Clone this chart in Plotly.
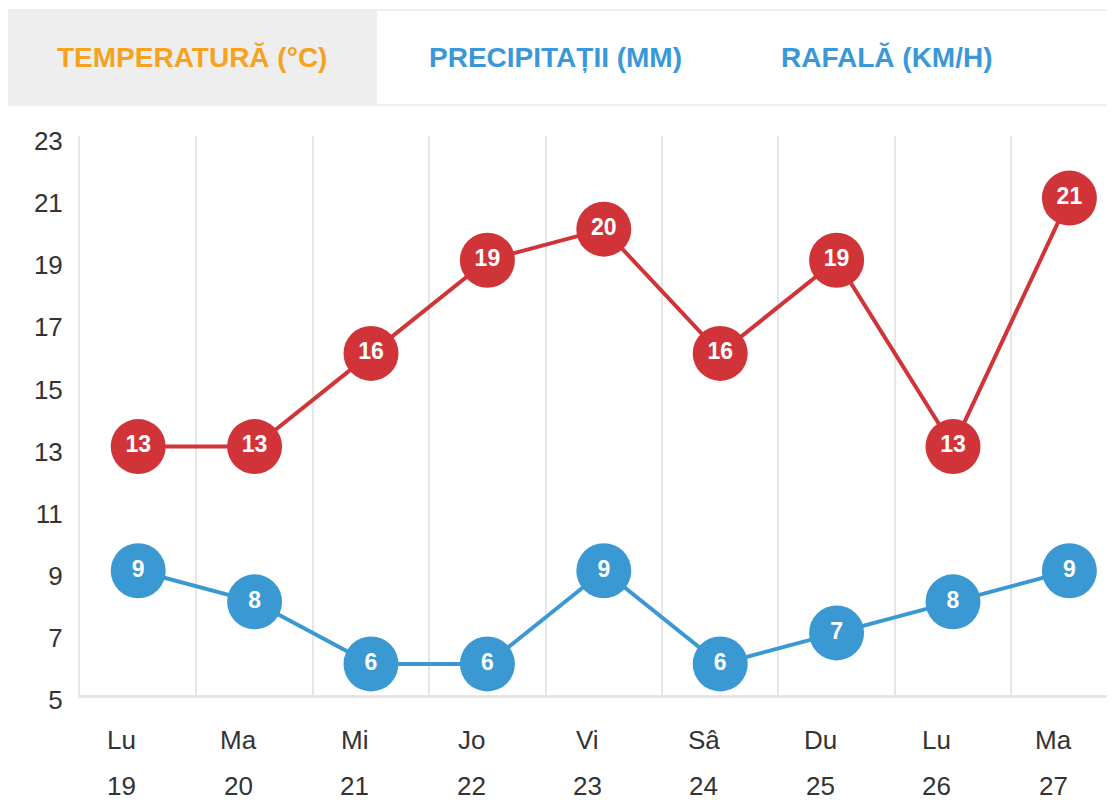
import plotly.graph_objects as go

days = ["Lu", "Ma", "Mi", "Jo", "Vi", "Sâ", "Du", "Lu", "Ma"]
dates = ["19", "20", "21", "22", "23", "24", "25", "26", "27"]
temperature = [13, 13, 16, 19, 20, 16, 19, 13, 21]
second_series = [9, 8, 6, 6, 9, 6, 7, 8, 9]
tabs = ["TEMPERATURĂ (°C)", "PRECIPITAȚII (MM)", "RAFALĂ (KM/H)"]
y_ticks = [5, 7, 9, 11, 13, 15, 17, 19, 21, 23]

RED = "#d13438"
BLUE = "#3a98d3"
GRID = "#e6e6e6"
FONT = "Liberation Sans, Arial, sans-serif"

x = list(range(len(days)))

fig = go.Figure()
for vals, col, name in [(temperature, RED, "Temperatură"), (second_series, BLUE, "Serie 2")]:
    fig.add_trace(go.Scatter(
        x=x, y=vals, name=name,
        mode="lines+markers+text",
        line=dict(color=col, width=4),
        marker=dict(size=55, color=col, line=dict(width=0)),
        text=[str(v) for v in vals],
        textposition="middle center",
        textfont=dict(color="white", size=23, family=FONT, weight="bold"),
        cliponaxis=False,
        hoverinfo="skip",
    ))

OFF = 8  # page body margin offset
W, H = 1115 - OFF, 800
L, T = 80 - OFF, 136 - OFF
B = H - (695 - OFF)
R = 0
plot_w = W - L - R
plot_h = H - T - B
cat_w = 116.4

def px_x(p):
    return (p - OFF - L) / plot_w

def px_y(p):
    return (H - B - (p - OFF)) / plot_h

annotations = []
for i, (d, dt) in enumerate(zip(days, dates)):
    annotations.append(dict(x=i - 0.14, y=5, xref="x", yref="y", text=d, showarrow=False,
                            yshift=-45, font=dict(size=26, color="#333333", family=FONT)))
    annotations.append(dict(x=i - 0.14, y=5, xref="x", yref="y", text=dt, showarrow=False,
                            yshift=-91, font=dict(size=26, color="#333333", family=FONT)))

tab_x = [192, 555, 887]
tab_col = ["#f5a31f", "#3a98d8", "#3a98d8"]
for t, tx, c in zip(tabs, tab_x, tab_col):
    annotations.append(dict(x=px_x(tx), y=px_y(57), xref="paper", yref="paper", text=t,
                            showarrow=False, xanchor="center", yanchor="middle",
                            font=dict(size=28, color=c, family=FONT, weight="bold")))

shapes = [
    dict(type="rect", xref="paper", yref="paper", x0=px_x(7), x1=px_x(377), y0=px_y(105), y1=px_y(10),
         fillcolor="#eeeeee", line=dict(width=0), layer="below"),
    dict(type="line", xref="paper", yref="paper", x0=px_x(7), x1=1, y0=px_y(10), y1=px_y(10),
         line=dict(color="#eeeeee", width=2)),
    dict(type="line", xref="paper", yref="paper", x0=px_x(7), x1=1, y0=px_y(105), y1=px_y(105),
         line=dict(color="#eeeeee", width=2)),
]

fig.update_layout(
    width=W, height=H,
    margin=dict(l=L, r=R, t=T, b=B),
    paper_bgcolor="white", plot_bgcolor="white",
    showlegend=False,
    annotations=annotations,
    shapes=shapes,
    xaxis=dict(
        range=[-0.5, -0.5 + plot_w / cat_w],
        tickvals=[i + 0.5 for i in range(len(days) - 1)],
        showticklabels=False, ticks="",
        showgrid=True, gridcolor=GRID, gridwidth=2,
        showline=True, linecolor=GRID, linewidth=3,
        zeroline=False, fixedrange=True,
    ),
    yaxis=dict(
        range=[5, 23],
        tickvals=y_ticks,
        ticktext=[str(v) for v in y_ticks],
        showgrid=False, zeroline=False,
        showline=True, linecolor=GRID, linewidth=2,
        ticks="", ticklabelstandoff=10, ticklabelshift=5,
        tickfont=dict(size=26, color="#333333", family=FONT),
        fixedrange=True,
    ),
)

fig.write_html("out.html")
